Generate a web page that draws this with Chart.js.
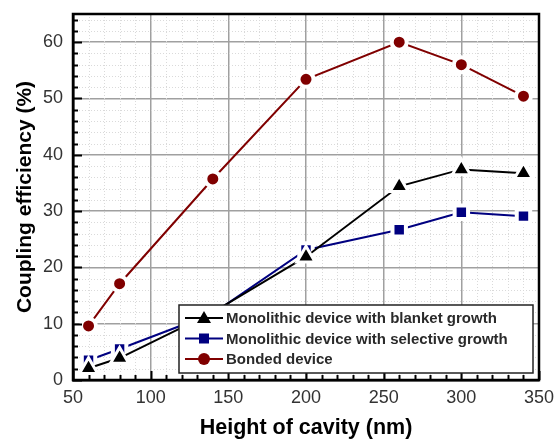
<!DOCTYPE html>
<html>
<head>
<meta charset="utf-8">
<script src="https://cdn.jsdelivr.net/npm/chart.js@4.4.0/dist/chart.umd.min.js"></script>
<style>
  html, body { margin: 0; padding: 0; background: #fff; }
  #wrap { width: 556px; height: 441px; }
</style>
</head>
<body>
<div id="wrap"><canvas id="Coupling-Chart"></canvas></div>
<script>
const heights = [60, 80, 140, 200, 260, 300, 340];
const blanket = [2.1, 3.9, 12.0, 21.9, 34.4, 37.4, 36.7];
const selective = [3.5, 5.5, 11.8, 23.1, 26.7, 29.8, 29.1];
const bonded = [9.6, 17.1, 35.7, 53.4, 60.0, 56.0, 50.4];
const seriesNames = [
  "Monolithic device with blanket growth",
  "Monolithic device with selective growth",
  "Bonded device"
];
const xTicks = [50, 100, 150, 200, 250, 300, 350];
const yTicks = [0, 10, 20, 30, 40, 50, 60];

const font = "'Liberation Sans', Arial, sans-serif";
const colors = ["#000000", "#000080", "#800000"];
const styles = ["triangle", "rect", "circle"];

function toPoints(values) {
  return heights.map((h, i) => ({ x: h, y: values[i] }));
}

// faint dotted minor grid under the data
const minorGridPlugin = {
  id: "minorGrid",
  beforeDatasetsDraw(chart) {
    const ctx = chart.ctx;
    const a = chart.chartArea;
    const xs = chart.scales.x, ys = chart.scales.y;
    ctx.save();
    ctx.strokeStyle = "#dadada";
    ctx.lineWidth = 1;
    ctx.setLineDash([1, 2]);
    ctx.beginPath();
    for (let v = 60; v < 350; v += 10) {
      if (v % 50 === 0) continue;
      const x = Math.round(xs.getPixelForValue(v)) + 0.5;
      ctx.moveTo(x, a.top);
      ctx.lineTo(x, a.bottom);
    }
    for (let v = 2; v < 65; v += 2) {
      if (v % 10 === 0) continue;
      const y = Math.round(ys.getPixelForValue(v)) + 0.5;
      ctx.moveTo(a.left, y);
      ctx.lineTo(a.right, y);
    }
    ctx.stroke();
    ctx.restore();
  }
};

// frame, inward ticks and in-plot legend
const framePlugin = {
  id: "frame",
  afterDraw(chart) {
    const ctx = chart.ctx;
    const a = chart.chartArea;
    const xs = chart.scales.x, ys = chart.scales.y;
    ctx.save();
    // inward ticks
    ctx.strokeStyle = "#000";
    ctx.lineWidth = 2;
    ctx.beginPath();
    for (let v = 0; v <= 64; v += 2) {
      const y = Math.round(ys.getPixelForValue(v)) + 0.5;
      const len = v % 10 === 0 ? 9 : 5;
      ctx.moveTo(a.left, y);
      ctx.lineTo(a.left + len, y);
    }
    for (let v = 50; v <= 350; v += 10) {
      const x = Math.round(xs.getPixelForValue(v)) + 0.5;
      const len = v % 50 === 0 ? 9 : 5;
      ctx.moveTo(x, a.bottom);
      ctx.lineTo(x, a.bottom - len);
    }
    ctx.stroke();
    // box
    ctx.lineWidth = 2.5;
    ctx.strokeRect(a.left, a.top, a.right - a.left, a.bottom - a.top);

    // legend
    const lw = 354, lh = 68;
    const lx = a.right - lw - 6, ly = a.bottom - lh - 7;
    ctx.fillStyle = "#fff";
    ctx.fillRect(lx, ly, lw, lh);
    ctx.strokeStyle = "#222";
    ctx.lineWidth = 1.5;
    ctx.strokeRect(lx, ly, lw, lh);
    ctx.font = "bold 15px " + font;
    ctx.textBaseline = "middle";
    seriesNames.forEach((name, i) => {
      const cy = ly + 13 + i * 20.5;
      const x0 = lx + 6;
      ctx.strokeStyle = colors[i];
      ctx.lineWidth = 2;
      ctx.beginPath();
      ctx.moveTo(x0, cy);
      ctx.lineTo(x0 + 38, cy);
      ctx.stroke();
      ctx.fillStyle = colors[i];
      const cx = x0 + 19;
      ctx.beginPath();
      if (styles[i] === "triangle") {
        ctx.moveTo(cx, cy - 7);
        ctx.lineTo(cx + 7, cy + 5);
        ctx.lineTo(cx - 7, cy + 5);
        ctx.closePath();
      } else if (styles[i] === "rect") {
        ctx.rect(cx - 5, cy - 5, 10, 10);
      } else {
        ctx.arc(cx, cy, 6, 0, Math.PI * 2);
      }
      ctx.fill();
      ctx.fillStyle = "#2a2a2a";
      ctx.fillText(name, x0 + 41, cy + 1);
    });
    ctx.restore();
  }
};

const data = {
  datasets: [
    {
      label: seriesNames[0],
      data: toPoints(blanket),
      borderColor: colors[0],
      backgroundColor: colors[0],
      pointStyle: "triangle",
      pointRadius: 10.5,
      pointBorderWidth: 3,
      pointBorderColor: "#fff"
    },
    {
      label: seriesNames[1],
      data: toPoints(selective),
      borderColor: colors[1],
      backgroundColor: colors[1],
      pointStyle: "rect",
      pointRadius: 9.5,
      pointBorderWidth: 4,
      pointBorderColor: "#fff"
    },
    {
      label: seriesNames[2],
      data: toPoints(bonded),
      borderColor: colors[2],
      backgroundColor: colors[2],
      pointStyle: "circle",
      pointRadius: 7.5,
      pointBorderWidth: 4,
      pointBorderColor: "#fff"
    }
  ]
};

const config = {
  type: "line",
  data: data,
  options: {
    responsive: true,
    maintainAspectRatio: false,
    animation: false,
    layout: { padding: { left: 0, top: 14, right: 17, bottom: 0 } },
    elements: { line: { borderWidth: 2, tension: 0 } },
    plugins: {
      legend: { display: false },
      tooltip: { enabled: false }
    },
    scales: {
      x: {
        type: "linear",
        min: 50,
        max: 350,
        afterBuildTicks: s => { s.ticks = xTicks.map(v => ({ value: v })); },
        afterFit: s => { s.height = 61; s.paddingLeft = 0; s.paddingRight = 0; },
        ticks: { color: "#333", font: { family: font, size: 18 }, padding: 7, maxRotation: 0 },
        grid: { color: "#a0a0a0", lineWidth: 1.5, drawTicks: false },
        border: { color: "#000", width: 2.5 },
        title: {
          display: true,
          text: "Height of cavity (nm)",
          color: "#000",
          font: { family: font, size: 21.5, weight: "bold" },
          padding: { top: 0, bottom: 0 }
        }
      },
      y: {
        min: 0,
        max: 65,
        afterBuildTicks: s => { s.ticks = yTicks.map(v => ({ value: v })); },
        afterFit: s => { s.width = 73; s.paddingTop = 0; s.paddingBottom = 0; },
        ticks: { color: "#333", font: { family: font, size: 18 }, padding: 10 },
        grid: { color: "#a0a0a0", lineWidth: 1.5, drawTicks: false },
        border: { color: "#000", width: 2.5 },
        title: {
          display: true,
          text: "Coupling efficiency (%)",
          color: "#000",
          font: { family: font, size: 21, weight: "bold" },
          padding: { top: 13, bottom: 0 }
        }
      }
    }
  },
  plugins: [minorGridPlugin, framePlugin]
};

let myChart = new Chart(document.getElementById("Coupling-Chart"), config);
</script>
</body>
</html>
